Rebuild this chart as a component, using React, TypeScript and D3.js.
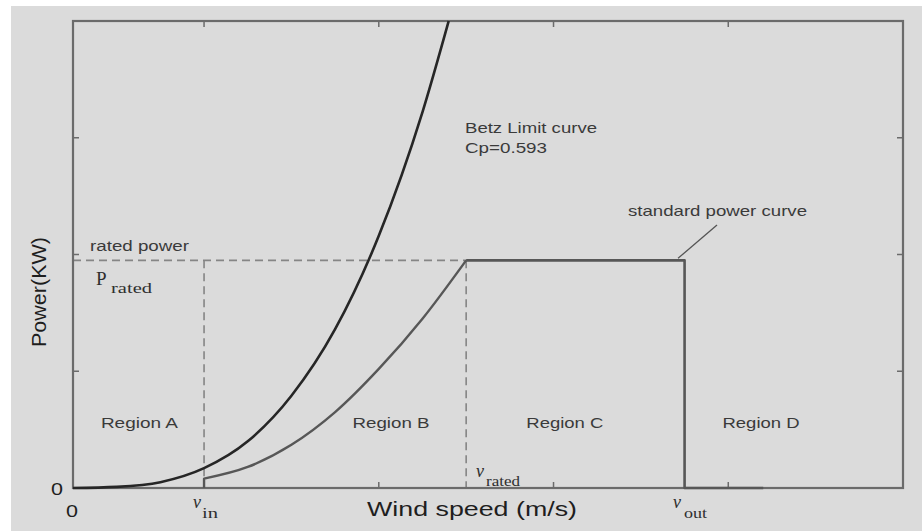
import { useRef, useEffect } from "react";
import * as d3 from "d3";

// wind speed (m/s, arbitrary units) and power
const betzSpeed = [0, 1, 2, 3, 4, 5, 6, 7, 8, 8.6];
const betzPower = [0, 0.01, 0.05, 0.17, 0.4, 0.79, 1.36, 2.16, 3.22, 4.0];

const riseSpeed = [3, 4, 5, 6, 7, 8, 9];
const risePower = [0.08, 0.18, 0.37, 0.65, 1.02, 1.45, 1.95];

const flatSpeed = [9, 14, 14, 15.8];
const flatPower = [1.95, 1.95, 0, 0];

const vIn = 3;
const vRated = 9;
const vOut = 14;
const pRated = 1.95;

const xTicks = [3, 7, 11, 15];
const yTicks = [1, 2, 3];

const regionNames = ["Region A", "Region B", "Region C", "Region D"];
const regionCenters = [1.52, 7.28, 11.26, 15.75];

const SANS = "'Liberation Sans', Arial, sans-serif";
const SERIF = "'Liberation Serif', 'Times New Roman', serif";

export default function App() {
  const svgRef = useRef<SVGSVGElement>(null);

  useEffect(() => {
    const width = 922;
    const height = 531;
    const left = 73, right = 903, top = 21, bottom = 488;

    const svg = d3.select(svgRef.current).attr("width", width).attr("height", height);
    svg.selectAll("*").remove();

    svg.append("rect").attr("width", width).attr("height", height).attr("fill", "#ffffff");
    svg.append("rect")
      .attr("x", 11).attr("y", 6)
      .attr("width", width - 11).attr("height", height - 6)
      .attr("fill", "#dbdbdb");

    const x = d3.scaleLinear().domain([0, 19]).range([left, right]);
    const y = d3.scaleLinear().domain([0, 4]).range([bottom, top]);

    // dashed guides
    const dash = svg.append("g")
      .attr("stroke", "#858585").attr("stroke-width", 1.6)
      .attr("stroke-dasharray", "8,5").attr("fill", "none");
    dash.append("line").attr("x1", x(0)).attr("x2", x(vRated)).attr("y1", y(pRated)).attr("y2", y(pRated));
    dash.append("line").attr("x1", x(vIn)).attr("x2", x(vIn)).attr("y1", y(pRated)).attr("y2", y(0));
    dash.append("line").attr("x1", x(vRated)).attr("x2", x(vRated)).attr("y1", y(pRated)).attr("y2", y(0));

    // axes box + inward ticks
    const ax = svg.append("g").attr("stroke", "#6b6b6b").attr("fill", "none");
    ax.append("rect")
      .attr("x", left).attr("y", top)
      .attr("width", right - left).attr("height", bottom - top)
      .attr("stroke-width", 2.2);
    ax.selectAll(".xt").data(xTicks).join("path")
      .attr("stroke-width", 1.5)
      .attr("d", (d) => `M${x(d)},${top}v6M${x(d)},${bottom}v-6`);
    ax.selectAll(".yt").data(yTicks).join("path")
      .attr("stroke-width", 1.5)
      .attr("d", (d) => `M${left},${y(d)}h6M${right},${y(d)}h-6`);

    // curves
    const smooth = d3.line<number>()
      .x((d) => x(d))
      .curve(d3.curveMonotoneX);

    svg.append("path")
      .attr("d", smooth.y((d, i) => y(betzPower[i]))(betzSpeed))
      .attr("fill", "none").attr("stroke", "#262626").attr("stroke-width", 2.6);

    svg.append("path")
      .attr("d", `M${x(vIn)},${y(0)}L${x(vIn)},${y(risePower[0])}` +
        smooth.y((d, i) => y(risePower[i]))(riseSpeed)!.replace(/^M/, "L"))
      .attr("fill", "none").attr("stroke", "#575757").attr("stroke-width", 2.4)
      .attr("stroke-linejoin", "round");

    svg.append("path")
      .attr("d", d3.line<number>().x((d) => x(d)).y((d, i) => y(flatPower[i]))(flatSpeed))
      .attr("fill", "none").attr("stroke", "#575757").attr("stroke-width", 2.6)
      .attr("stroke-linejoin", "round");

    // pointer to standard curve
    svg.append("line")
      .attr("x1", 717).attr("y1", 225)
      .attr("x2", x(13.85)).attr("y2", y(pRated) - 2)
      .attr("stroke", "#555").attr("stroke-width", 1.3);

    const label = (txt: string, tx: number, ty: number, size: number, len: number, color = "#3a3a3a") =>
      svg.append("text")
        .attr("x", tx).attr("y", ty)
        .attr("font-family", SANS).attr("font-size", size)
        .attr("fill", color)
        .attr("textLength", len).attr("lengthAdjust", "spacingAndGlyphs")
        .text(txt);

    label("Betz Limit curve", 465, 133, 15, 132);
    label("Cp=0.593", 465, 153, 15, 82);
    label("standard power curve", 628, 216, 15, 179);
    label("rated power", 90, 251, 14, 99);

    regionNames.forEach((name, i) => {
      const w = 77;
      label(name, x(regionCenters[i]) - w / 2, 428, 15, w);
    });

    label("Wind speed (m/s)", 367, 516, 21, 210, "#1e1e1e");
    label("0", 51, 495, 17, 12, "#1e1e1e");
    label("0", 66, 517, 17, 12, "#1e1e1e");

    svg.append("text")
      .attr("transform", "translate(46,292) rotate(-90)")
      .attr("text-anchor", "middle")
      .attr("font-family", SANS).attr("font-size", 20)
      .attr("fill", "#1e1e1e")
      .attr("textLength", 110).attr("lengthAdjust", "spacingAndGlyphs")
      .text("Power(KW)");

    // math-style labels
    const sub = (main: string, s: string, mx: number, my: number, sx: number, sy: number,
      mSize: number, sSize: number, sLen: number, italic: boolean) => {
      const g = svg.append("g").attr("font-family", SERIF).attr("fill", "#2e2e2e");
      g.append("text").attr("x", mx).attr("y", my)
        .attr("font-size", mSize).attr("font-style", italic ? "italic" : "normal").text(main);
      g.append("text").attr("x", sx).attr("y", sy)
        .attr("font-size", sSize)
        .attr("textLength", sLen).attr("lengthAdjust", "spacingAndGlyphs").text(s);
    };

    sub("P", "rated", 96, 285, 111, 293, 19, 14, 41, false);
    sub("v", "in", 193, 508, 202, 518, 18, 14, 16, true);
    sub("v", "out", 673, 508, 684, 518, 18, 14, 23, true);
    sub("v", "rated", 476, 477, 486, 486, 18, 14, 34, true);
  }, []);

  return (
    <svg
      ref={svgRef}
      style={{ position: "absolute", left: 0, top: 0, display: "block" }}
    ></svg>
  );
}
